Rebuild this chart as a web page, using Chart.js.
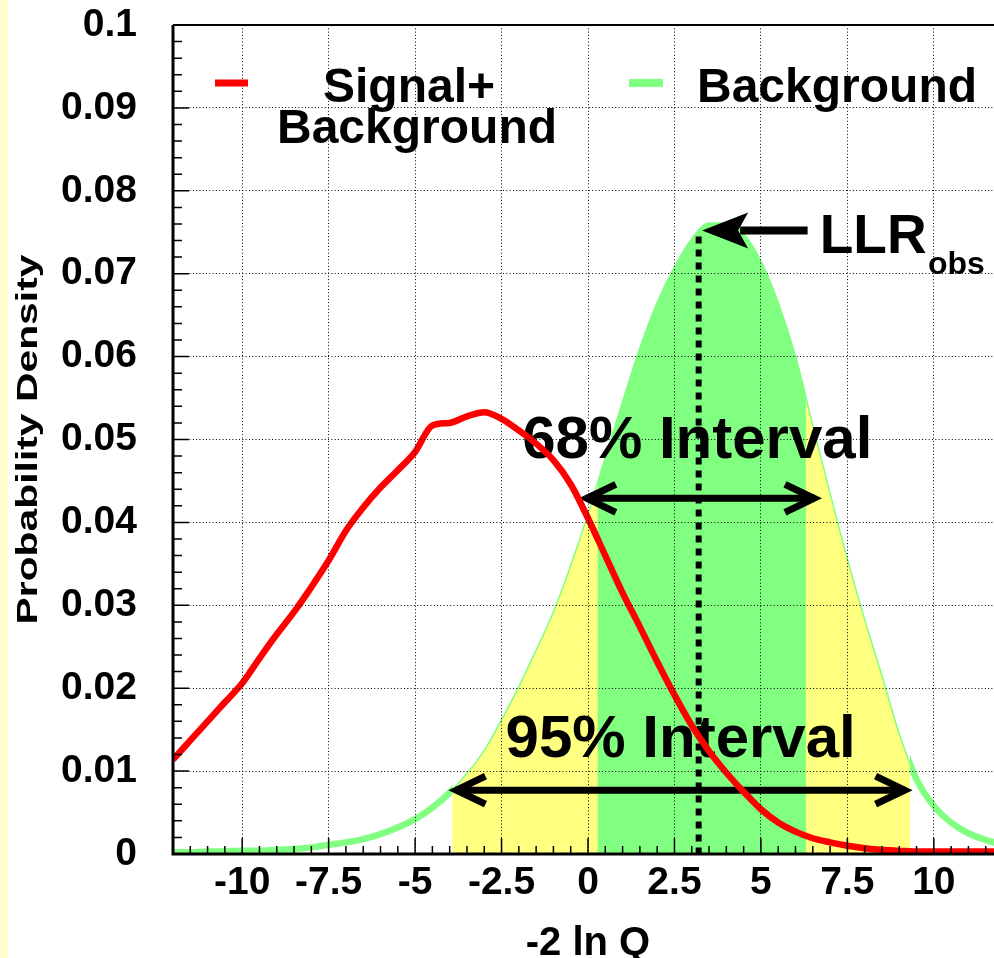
<!DOCTYPE html>
<html>
<head>
<meta charset="utf-8">
<title>LLR distributions</title>
<script src="https://cdn.jsdelivr.net/npm/chart.js@4.4.0/dist/chart.umd.min.js"></script>
<style>
  html, body { margin: 0; padding: 0; background: #fff; overflow: hidden; }
  #wrap { position: relative; width: 1010px; height: 958px; }
  #strip { position: absolute; left: 0; top: 0; width: 8px; height: 958px; background: #ffffd0; }
</style>
</head>
<body>
<div id="wrap">
  <canvas id="llrChart" width="1010" height="958"></canvas>
  <div id="strip"></div>
</div>
<script>
// -2 ln Q sample points
const llrValues = [
  -12, -11.5, -11, -10.5, -10, -9.5, -9, -8.5, -8, -7.5, -7, -6.5, -6, -5.5, -5, -4.5,
  -4, -3.5, -3, -2.5, -2, -1.5, -1, -0.5, 0, 0.5, 1, 1.5, 2, 2.5, 3, 3.5,
  4, 4.5, 5, 5.5, 6, 6.5, 7, 7.5, 8, 8.5, 9, 9.5, 10, 10.5, 11, 11.5, 12
];
// probability density, signal+background hypothesis
const sbDensity = [
  0.0114, 0.0137, 0.0160, 0.0183, 0.0206, 0.0236, 0.0265, 0.0292, 0.0322, 0.0354, 0.0390, 0.0418, 0.0442, 0.0463, 0.0485, 0.0517,
  0.0520, 0.0528, 0.0533, 0.0525, 0.0511, 0.0495, 0.0475, 0.0446, 0.0405, 0.0360, 0.0315, 0.0274, 0.0232, 0.0192, 0.0155, 0.0124,
  0.0098, 0.0075, 0.0054, 0.0038, 0.0027, 0.0019, 0.0014, 0.0010, 0.0007, 0.0005, 0.0004, 0.0003, 0.0003, 0.0003, 0.0003, 0.0003, 0.0003
];
// probability density, background-only hypothesis
const bDensity = [
  0.0002, 0.0002, 0.0003, 0.0003, 0.0004, 0.0004, 0.0005, 0.0006, 0.0008, 0.0011, 0.0014, 0.0018, 0.0024, 0.0032, 0.0042, 0.0056,
  0.0074, 0.0097, 0.0125, 0.0162, 0.0202, 0.0246, 0.0292, 0.0348, 0.0410, 0.0478, 0.0545, 0.0610, 0.0665, 0.0708, 0.0742, 0.0761,
  0.0761, 0.0748, 0.0715, 0.0665, 0.0600, 0.0517, 0.0435, 0.0356, 0.0283, 0.0215, 0.0145, 0.0090, 0.0058, 0.0038, 0.0025, 0.0017, 0.0011
];
const seriesLabels = ['Signal+\nBackground', 'Background'];

// background-only intervals and observed value
const interval95 = [-3.92, 9.31];
const interval68 = [0.28, 6.3];
const llrObs = 3.2;

const xTickValues = [-10, -7.5, -5, -2.5, 0, 2.5, 5, 7.5, 10];
const xTickLabels = ['-10', '-7.5', '-5', '-2.5', '0', '2.5', '5', '7.5', '10'];
const yTickValues = [0, 0.01, 0.02, 0.03, 0.04, 0.05, 0.06, 0.07, 0.08, 0.09, 0.1];
const yTickLabels = ['0', '0.01', '0.02', '0.03', '0.04', '0.05', '0.06', '0.07', '0.08', '0.09', '0.1'];

const FONT = "'Liberation Sans', Arial, Helvetica, sans-serif";
const RED = '#ff0000';
const GREEN = '#80ff80';
const YELLOW = '#ffff80';

const toPoints = vals => llrValues.map((x, i) => ({ x: x, y: vals[i] }));

function openHead(ctx, tx, ty, dir) {
  ctx.beginPath();
  ctx.moveTo(tx - dir * 29, ty - 14);
  ctx.lineTo(tx, ty);
  ctx.lineTo(tx - dir * 29, ty + 14);
  ctx.stroke();
}

function doubleArrow(ctx, x0, x1, y) {
  ctx.lineWidth = 7;
  ctx.lineJoin = 'miter';
  ctx.beginPath();
  ctx.moveTo(x0 + 3, y);
  ctx.lineTo(x1 - 3, y);
  ctx.stroke();
  openHead(ctx, x0 + 4, y, -1);
  openHead(ctx, x1 - 4, y, 1);
}

// arrows, labels and observed line; drawn under the red curve
function drawAnnotations(chart) {
  const { ctx, scales: { x, y } } = chart;
  const px = v => x.getPixelForValue(v);
  const py = v => y.getPixelForValue(v);
  ctx.save();
  ctx.strokeStyle = '#000';
  ctx.fillStyle = '#000';

  // observed LLR
  ctx.lineWidth = 6;
  ctx.setLineDash([7, 6]);
  ctx.beginPath();
  ctx.moveTo(px(llrObs), py(0.0745));
  ctx.lineTo(px(llrObs), py(0));
  ctx.stroke();
  ctx.setLineDash([]);

  const ay = py(0.0752);
  const tip = px(3.3);
  ctx.lineWidth = 8;
  ctx.beginPath();
  ctx.moveTo(px(6.35), ay);
  ctx.lineTo(tip + 38, ay);
  ctx.stroke();
  ctx.beginPath();
  ctx.moveTo(tip, ay);
  ctx.lineTo(tip + 46, ay - 18);
  ctx.lineTo(tip + 36, ay);
  ctx.lineTo(tip + 46, ay + 18);
  ctx.closePath();
  ctx.fill();

  doubleArrow(ctx, px(-0.15), px(6.65), py(0.0429));
  doubleArrow(ctx, px(interval95[0]), px(9.27), py(0.0077));

  ctx.textAlign = 'center';
  ctx.textBaseline = 'alphabetic';
  ctx.font = 'bold 60px ' + FONT;
  ctx.fillText('68% Interval', px(3.16), py(0.0478));
  ctx.fillText('95% Interval', px(2.68), py(0.0117));

  ctx.textAlign = 'left';
  ctx.font = 'bold 55px ' + FONT;
  ctx.fillText('LLR', px(6.7), py(0.0725));
  ctx.font = 'bold 32px ' + FONT;
  ctx.fillText('obs', px(9.83), py(0.0700));
  ctx.restore();
}

// Restrict a dataset (line and fill) to x ranges. The filler paints in its own
// beforeDatasetDraw hook, so the clip is opened before that: ahead of the first
// dataset, and for the others at the end of the dataset drawn just before.
function openClip(chart, meta) {
  const ds = chart.data.datasets[meta.index];
  if (!ds.clipX) return;
  const { ctx, chartArea: a, scales: { x } } = chart;
  ctx.save();
  ctx.beginPath();
  ds.clipX.forEach(([lo, hi]) => {
    const p0 = x.getPixelForValue(lo);
    const p1 = x.getPixelForValue(hi);
    ctx.rect(p0, a.top - 10, p1 - p0, a.bottom - a.top + 20);
  });
  ctx.clip();
  chart.$clipOpen = true;
}

const bandClip = {
  id: 'bandClip',
  beforeDatasetsDraw(chart) {
    chart.$clipOpen = false;
    const order = chart.getSortedVisibleDatasetMetas().slice().reverse();
    chart.$drawOrder = order;
    if (order.length) openClip(chart, order[0]);
  },
  afterDatasetDraw(chart, args) {
    if (chart.$clipOpen) {
      chart.ctx.restore();
      chart.$clipOpen = false;
    }
    if (args.index === 1) drawAnnotations(chart);
    const order = chart.$drawOrder;
    const pos = order.findIndex(m => m.index === args.index);
    if (pos >= 0 && pos + 1 < order.length) openClip(chart, order[pos + 1]);
  }
};

const frame = {
  id: 'frame',
  afterDraw(chart) {
    const { ctx, chartArea: a, scales: { x, y } } = chart;
    ctx.save();
    ctx.strokeStyle = '#000';

    // inward ticks
    ctx.lineWidth = 1.5;
    ctx.beginPath();
    for (let i = -24; i <= 24; i++) {
      const p = x.getPixelForValue(i * 0.5);
      const len = i % 5 === 0 ? 16 : 8;
      ctx.moveTo(p, a.bottom);
      ctx.lineTo(p, a.bottom - len);
    }
    for (let i = 0; i <= 50; i++) {
      const p = y.getPixelForValue(i * 0.002);
      const len = i % 5 === 0 ? 16 : 9;
      ctx.moveTo(a.left, p);
      ctx.lineTo(a.left + len, p);
    }
    ctx.stroke();

    // frame
    ctx.lineWidth = 3;
    ctx.beginPath();
    ctx.moveTo(a.left, a.top);
    ctx.lineTo(a.left, a.bottom);
    ctx.lineTo(a.right, a.bottom);
    ctx.stroke();
    ctx.lineWidth = 2;
    ctx.beginPath();
    ctx.moveTo(a.left, a.top);
    ctx.lineTo(a.right, a.top);
    ctx.lineTo(a.right, a.bottom);
    ctx.stroke();

    // legend
    ctx.lineCap = 'butt';
    ctx.lineWidth = 7;
    ctx.strokeStyle = RED;
    ctx.beginPath(); ctx.moveTo(215, 83); ctx.lineTo(248, 83); ctx.stroke();
    ctx.strokeStyle = GREEN;
    ctx.lineWidth = 8;
    ctx.beginPath(); ctx.moveTo(629, 83); ctx.lineTo(663, 83); ctx.stroke();

    ctx.fillStyle = '#000';
    ctx.font = 'bold 48px ' + FONT;
    ctx.textBaseline = 'alphabetic';
    const sbLines = chart.data.datasets[0].label.split('\n');
    ctx.textAlign = 'center';
    ctx.fillText(sbLines[0], 409, 102);
    ctx.fillText(sbLines[1], 417, 143);
    ctx.textAlign = 'left';
    ctx.fillText(chart.data.datasets[1].label, 697, 102);

    // axis titles
    ctx.font = 'bold 40px ' + FONT;
    ctx.textAlign = 'center';
    ctx.fillText('-2 ln Q', (a.left + a.right) / 2, 955);

    ctx.save();
    ctx.translate(29, (a.top + a.bottom) / 2);
    ctx.rotate(-Math.PI / 2);
    ctx.font = 'bold 29px ' + FONT;
    const t = 'Probability Density';
    const w = ctx.measureText(t).width;
    ctx.scale(370 / w, 1);
    ctx.textBaseline = 'middle';
    ctx.fillText(t, 0, 0);
    ctx.restore();

    ctx.restore();
  }
};

const noPad = s => { s.paddingTop = 0; s.paddingBottom = 0; s.paddingLeft = 0; s.paddingRight = 0; };

const ctx = document.getElementById('llrChart').getContext('2d');
new Chart(ctx, {
  type: 'line',
  data: {
    datasets: [
      {
        label: seriesLabels[0],
        data: toPoints(sbDensity),
        borderColor: RED,
        borderWidth: 6.5,
        fill: false,
        order: 0
      },
      {
        label: seriesLabels[1],
        data: toPoints(bDensity),
        borderColor: GREEN,
        borderWidth: 6.5,
        fill: false,
        order: 1,
        clipX: [[-13, interval95[0]], [interval95[1], 13]]
      },
      {
        label: '95% band',
        data: toPoints(bDensity),
        borderColor: GREEN,
        borderWidth: 1.5,
        backgroundColor: YELLOW,
        fill: 'origin',
        order: 3,
        clipX: [interval95]
      },
      {
        label: '68% band',
        data: toPoints(bDensity),
        borderColor: GREEN,
        borderWidth: 1.5,
        backgroundColor: GREEN,
        fill: 'origin',
        order: 2,
        clipX: [interval68]
      }
    ]
  },
  options: {
    responsive: false,
    animation: false,
    events: [],
    layout: { padding: { top: 25, right: 7, left: 0, bottom: 0 } },
    elements: {
      point: { radius: 0 },
      line: { cubicInterpolationMode: 'monotone' }
    },
    plugins: {
      legend: { display: false },
      tooltip: { enabled: false }
    },
    scales: {
      x: {
        type: 'linear',
        min: -12,
        max: 12,
        afterBuildTicks: s => { s.ticks = xTickValues.map(v => ({ value: v })); },
        afterFit: s => { s.height = 104; noPad(s); },
        grid: { color: '#000', lineWidth: 1, drawTicks: false, z: 1 },
        border: { display: false, dash: [1, 2.3] },
        ticks: {
          autoSkip: false,
          maxRotation: 0,
          padding: 6,
          color: '#000',
          font: { family: FONT, size: 39, weight: 'bold' },
          callback: (v, i) => xTickLabels[i]
        }
      },
      y: {
        type: 'linear',
        min: 0,
        max: 0.1,
        afterBuildTicks: s => { s.ticks = yTickValues.map(v => ({ value: v })); },
        afterFit: s => { s.width = 173; noPad(s); },
        grid: { color: '#000', lineWidth: 1, drawTicks: false, z: 1 },
        border: { display: false, dash: [1, 2.3] },
        ticks: {
          padding: 36,
          color: '#000',
          font: { family: FONT, size: 39, weight: 'bold' },
          callback: (v, i) => yTickLabels[i]
        }
      }
    }
  },
  plugins: [bandClip, frame]
});
</script>
</body>
</html>
